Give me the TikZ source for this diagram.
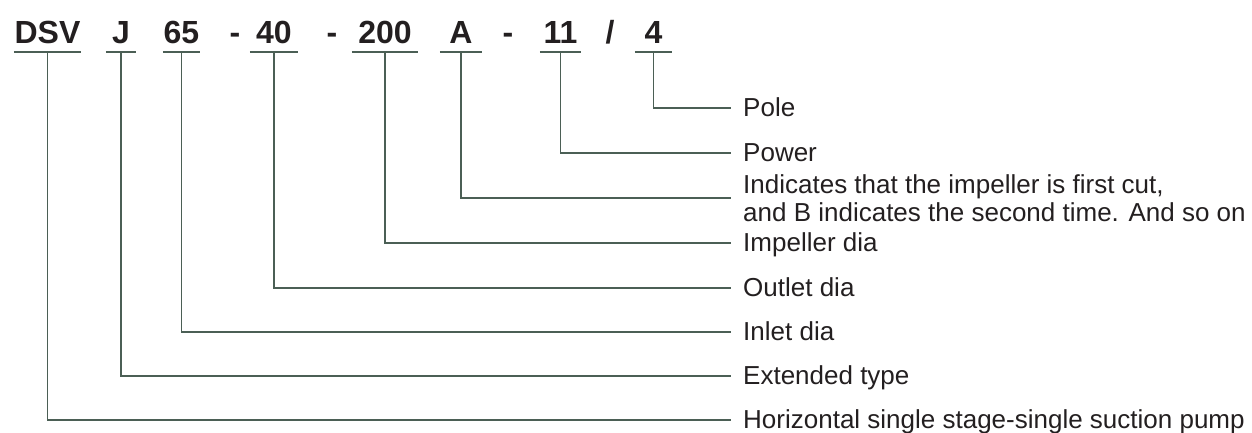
\documentclass[tikz,border=0pt]{standalone}
\usepackage{fontspec}
\setmainfont{Liberation Sans}
\definecolor{txt}{RGB}{35,31,32}
\definecolor{ln}{RGB}{75,95,85}
\tikzset{
  code/.style={font=\fontsize{32}{36}\selectfont\bfseries, text=txt, inner sep=0pt, text depth=0pt, anchor=base},
  lab/.style={font=\fontsize{26}{28}\selectfont, text=txt, inner xsep=12pt, inner ysep=0pt, text height=16pt, text depth=0pt, anchor=west},
  uline/.style={draw=ln, line width=2pt},
  conn/.style={draw=ln, line width=1.6pt}
}
\begin{document}
\begin{tikzpicture}[x=1pt,y=-1pt]
\useasboundingbox (0,0) rectangle (1252,432);
% code parts
\node[code, minimum width=67pt] (cDSV) at (47.5,43) {DSV};
\node[code, minimum width=30pt] (cJ) at (121,43) {J};
\node[code, minimum width=37pt] (c65) at (181.5,43) {65};
\node[code] (d1) at (235,43) {-};
\node[code, minimum width=48pt] (c40) at (274,43) {40};
\node[code] (d2) at (332,43) {-};
\node[code, minimum width=66pt] (c200) at (385,43) {200};
\node[code, minimum width=42pt] (cA) at (461,43) {A};
\node[code] (d3) at (508,43) {-};
\node[code, minimum width=41pt] (c11) at (560.5,43) {11};
\node[code] (sl) at (610,43) {/};
\node[code, minimum width=37pt] (c4) at (653.5,43) {4};
% underlines
\foreach \n in {cDSV,cJ,c65,c40,c200,cA,c11,c4}{
  \draw[uline] ([yshift=-9pt]\n.south west) -- ([yshift=-9pt]\n.south east);
}
% labels
\node[lab] (lPole) at (731,108) {Pole};
\node[lab] (lPow) at (731,153) {Power};
\node[lab, text height=0pt, text depth=10pt] (lA) at (731,198)
  {\begin{tabular}[t]{@{}l@{}}Indicates that the impeller is first cut,\\and B indicates the second time. And so on\end{tabular}};
\node[lab] (lImp) at (731,243) {Impeller dia};
\node[lab] (lOut) at (731,288) {Outlet dia};
\node[lab] (lIn) at (731,332) {Inlet dia};
\node[lab] (lExt) at (731,376) {Extended type};
\node[lab] (lHor) at (731,420) {Horizontal single stage-single suction pump};
% connectors
\draw[conn] ([yshift=-9pt]c4.south) |- (lPole.west);
\draw[conn] ([yshift=-9pt]c11.south) |- (lPow.west);
\draw[conn] ([yshift=-9pt]cA.south) |- (lA.west);
\draw[conn] ([yshift=-9pt]c200.south) |- (lImp.west);
\draw[conn] ([yshift=-9pt]c40.south) |- (lOut.west);
\draw[conn] ([yshift=-9pt]c65.south) |- (lIn.west);
\draw[conn] ([yshift=-9pt]cJ.south) |- (lExt.west);
\draw[conn] ([yshift=-9pt]cDSV.south) |- (lHor.west);
\end{tikzpicture}
\end{document}
